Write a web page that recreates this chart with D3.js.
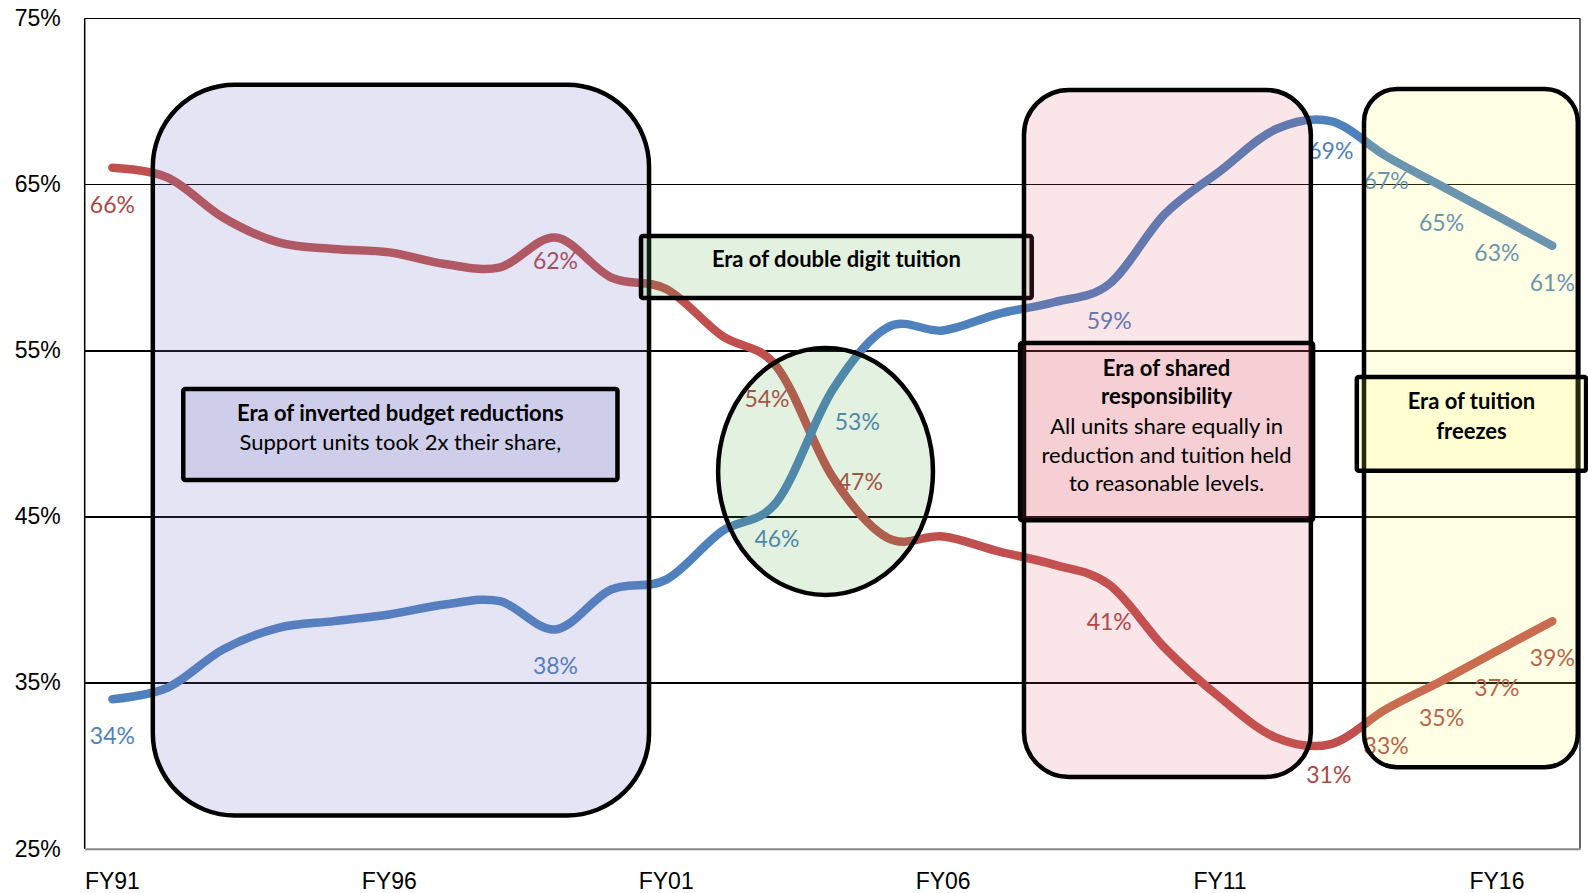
<!DOCTYPE html>
<html>

<head>
  <meta charset="utf-8">
  <script src="https://cdn.jsdelivr.net/npm/d3@7"></script>
</head>
<style>
  body {
    margin: 0;
    background: #fff;
  }

  svg {
    display: block;
    font-family: Lato, "Open Sans", sans-serif;
  }

  .grid line {
    stroke: #000;
    stroke-width: 1.3px;
    shape-rendering: crispEdges;
  }

  .axis text {
    font-size: 23px;
    fill: #000;
  }

  .series {
    fill: none;
    stroke-width: 8.5px;
    stroke-linecap: round;
    stroke-linejoin: round;
  }

  .dlabel {
    font-size: 23px;
    text-anchor: middle;
    dominant-baseline: central;
  }

  .shape {
    stroke: #000;
    stroke-width: 4.5px;
  }

  .box-text {
    font-size: 22px;
    text-anchor: middle;
    fill: #000;
  }

  .box-text.bold {
    font-weight: bold;
  }
</style>

<body>
  <svg id="chart" width="1588" height="893"></svg>
  <script>
    // fiscal years on the category axis
    const years = ["FY91", "FY92", "FY93", "FY94", "FY95", "FY96", "FY97", "FY98", "FY99", "FY00",
      "FY01", "FY02", "FY03", "FY04", "FY05", "FY06", "FY07", "FY08", "FY09", "FY10",
      "FY11", "FY12", "FY13", "FY14", "FY15", "FY16", "FY17"];
    const axisYears = ["FY91", "FY96", "FY01", "FY06", "FY11", "FY16"];
    const yTicks = [25, 35, 45, 55, 65, 75];

    // red line (falling share)
    const stateShare = [66.0, 65.4, 63.0, 61.5, 61.1, 60.9, 60.2, 60.0, 61.8, 59.4,
      58.7, 55.9, 54.0, 47.4, 43.7, 43.8, 42.9, 42.1, 40.9, 37.1,
      34.1, 31.7, 31.3, 33.4, 35.1, 36.9, 38.7];
    // blue line (rising share)
    const tuitionShare = [34.0, 34.7, 37.0, 38.3, 38.7, 39.1, 39.7, 39.9, 38.2, 40.6,
      41.2, 44.1, 45.9, 52.6, 56.4, 56.2, 57.2, 57.9, 59.0, 63.2,
      65.8, 68.3, 68.8, 66.7, 64.9, 63.1, 61.3];

    // years that carry a data label
    const labelledYears = ["FY91", "FY99", "FY03", "FY04", "FY09", "FY13", "FY14", "FY15", "FY16", "FY17"];

    const width = 1588, height = 893;
    const margin = { top: 18.2, right: 8, bottom: 44.3, left: 84.7 };

    const svg = d3.select("#chart");

    const x = d3.scaleBand()
      .domain(years)
      .range([margin.left, width - margin.right]);
    const cx = d => x(d) + x.bandwidth() / 2;
    // fractional position along the category axis (0 = FY91)
    const xAt = i => cx(years[0]) + i * x.step();

    const y = d3.scaleLinear()
      .domain([25, 75])
      .range([height - margin.bottom, margin.top]);

    // gridlines
    svg.append("g")
      .attr("class", "grid")
      .attr("transform", `translate(${margin.left},0)`)
      .call(d3.axisLeft(y).tickValues(yTicks.slice(1)).tickSize(-(width - margin.left - margin.right)).tickFormat(""))
      .call(g => g.select(".domain").remove());

    // plot frame: left and right edges
    svg.append("line")
      .attr("x1", margin.left).attr("x2", margin.left)
      .attr("y1", margin.top).attr("y2", height - margin.bottom)
      .attr("stroke", "#000").attr("stroke-width", 1.5);
    svg.append("line")
      .attr("x1", width - margin.right).attr("x2", width - margin.right)
      .attr("y1", margin.top).attr("y2", height - margin.bottom)
      .attr("stroke", "#000").attr("stroke-width", 1.2);

    // y axis labels
    svg.append("g")
      .attr("class", "axis")
      .attr("transform", `translate(${margin.left},0)`)
      .call(d3.axisLeft(y).tickValues(yTicks).tickSize(0).tickPadding(24).tickFormat(d => d + "%"))
      .call(g => g.select(".domain").remove());

    // x axis
    svg.append("g")
      .attr("class", "axis")
      .attr("transform", `translate(0,${height - margin.bottom})`)
      .call(d3.axisBottom(x).tickValues(axisYears).tickSize(0).tickPadding(24))
      .call(g => g.select(".domain").attr("stroke", "#868686").attr("stroke-width", 2));

    const line = d3.line()
      .x((d, i) => cx(years[i]))
      .y(d => y(d))
      .curve(d3.curveCardinal.tension(0));

    const series = [
      { name: "state", values: stateShare, color: "#c0504d", labelColor: "#b04543" },
      { name: "tuition", values: tuitionShare, color: "#4f81bd", labelColor: "#4f81bd" }
    ];

    svg.selectAll(".series")
      .data(series)
      .join("path")
      .attr("class", "series")
      .attr("stroke", d => d.color)
      .attr("d", d => line(d.values));

    // data labels sit below the point; a few were dragged by hand in the original
    const nudge = {
      state: { FY99: [0, -13], FY03: [-10, -5], FY04: [28, -32], FY13: [-2, -6] },
      tuition: { FY04: [25, -5], FY13: [0, -7], FY14: [0, -12] }
    };

    series.forEach(s => {
      svg.append("g")
        .selectAll("text")
        .data(labelledYears)
        .join("text")
        .attr("class", "dlabel")
        .attr("fill", s.labelColor)
        .attr("x", d => cx(d) + ((nudge[s.name][d] || [0, 0])[0]))
        .attr("y", d => y(s.values[years.indexOf(d)]) + 36 + ((nudge[s.name][d] || [0, 0])[1]))
        .text(d => Math.round(s.values[years.indexOf(d)]) + "%");
    });

    // era annotations, placed in axis units
    function roundBox(x0, x1, v0, v1, r, fill) {
      return svg.append("rect")
        .attr("class", "shape")
        .attr("x", xAt(x0)).attr("width", xAt(x1) - xAt(x0))
        .attr("y", y(v0)).attr("height", y(v1) - y(v0))
        .attr("rx", r).attr("ry", r)
        .attr("fill", fill);
    }

    function textBox(x0, x1, v0, v1, fill, lines) {
      roundBox(x0, x1, v0, v1, 2, fill);
      const mid = (xAt(x0) + xAt(x1)) / 2;
      const top = y(v0);
      lines.forEach(l => {
        svg.append("text")
          .attr("class", "box-text" + (l.bold ? " bold" : ""))
          .attr("x", mid)
          .attr("y", top + l.dy)
          .text(l.text);
      });
    }

    const lavender = "rgba(120,120,200,0.2)";
    const green = "rgba(90,170,80,0.17)";
    const pink = "rgba(220,80,100,0.15)";
    const yellow = "rgba(255,255,100,0.16)";

    roundBox(0.73, 9.69, 71.0, 27.0, 82, lavender);
    textBox(1.28, 9.12, 52.68, 47.2, lavender, [
      { text: "Era of inverted budget reductions", bold: true, dy: 32 },
      { text: "Support units took 2x their share,", bold: false, dy: 61 }
    ]);

    textBox(9.545, 16.6, 61.89, 58.15, green, [
      { text: "Era of double digit tuition", bold: true, dy: 31 }
    ]);

    svg.append("ellipse")
      .attr("class", "shape")
      .attr("cx", xAt(12.877)).attr("cy", y(47.71))
      .attr("rx", xAt(1.94) - xAt(0)).attr("ry", y(40.275) - y(47.71))
      .attr("fill", green)
      .attr("stroke-width", 4);

    roundBox(16.46, 21.64, 70.68, 29.32, 45, pink);
    textBox(16.39, 21.68, 55.44, 44.78, pink, [
      { text: "Era of shared", bold: true, dy: 33 },
      { text: "responsibility", bold: true, dy: 61 },
      { text: "All units share equally in", bold: false, dy: 91 },
      { text: "reduction and tuition held", bold: false, dy: 120 },
      { text: "to reasonable levels.", bold: false, dy: 148 }
    ]);

    roundBox(22.6, 26.46, 70.74, 29.91, 33, yellow);
    textBox(22.47, 26.61, 53.4, 47.76, yellow, [
      { text: "Era of tuition", bold: true, dy: 32 },
      { text: "freezes", bold: true, dy: 62 }
    ]);
  </script>
</body>

</html>
